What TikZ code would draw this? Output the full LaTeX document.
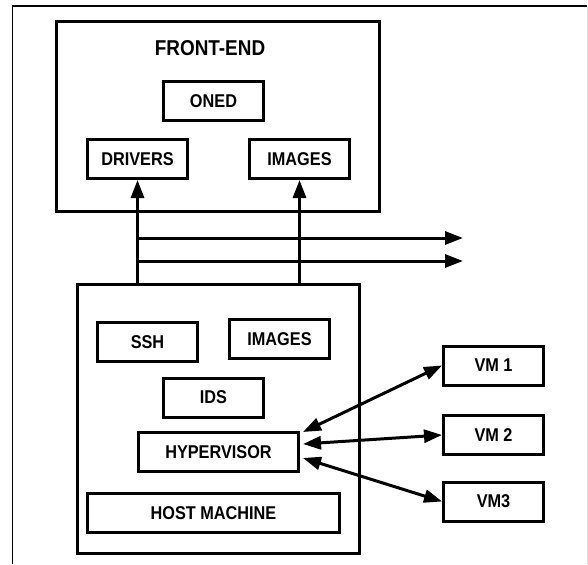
\documentclass[tikz,border=0pt]{standalone}
\usepackage{fontspec}
\newfontfamily\lbl{Liberation Sans}[FakeStretch=0.88]
\usetikzlibrary{arrows.meta,calc}
\tikzset{
  box/.style={draw, line width=3pt, inner sep=0pt, minimum width=100pt, minimum height=39pt,
    font=\lbl\bfseries\fontsize{18.5}{20}\selectfont},
  container/.style={draw, line width=3pt, inner sep=0pt},
  arr/.style={line width=3pt, -{Triangle[length=18pt,width=13pt]}},
  darr/.style={line width=3pt, {Triangle[length=18pt,width=13pt]}-{Triangle[length=18pt,width=13pt]}},
  title/.style={font=\lbl\bfseries\fontsize{21.5}{23}\selectfont, inner sep=0pt}
}
\begin{document}
\begin{tikzpicture}[x=1pt,y=-1pt]
\useasboundingbox (0,0) rectangle (588,564);
% outer frame
\draw[line width=2pt] (12,6) -- (587,6);
\draw[line width=1pt] (12,5) -- (12,564);
\draw[gray!25, line width=1pt] (587,6) -- (587,564);

% front-end
\node[container, minimum width=323pt, minimum height=190pt] (fe) at (218,116.5) {};
\node[title] (fetitle) at (210,48) {FRONT-END};
\node[box] (oned) at (213.5,101) {ONED};
\node[box] (drivers) at (137.5,159) {DRIVERS};
\node[box] (images) at (299.5,159) {IMAGES};

% host
\node[container, minimum width=282pt, minimum height=269pt] (host) at (218.5,419) {};
\node[box] (ssh) at (147.5,342) {SSH};
\node[box] (himages) at (279.5,339) {IMAGES};
\node[box] (ids) at (213.5,397.5) {IDS};
\node[box, minimum width=160pt] (hyp) at (218.5,452) {HYPERVISOR};
\node[box, minimum width=252pt] (hm) at (213.5,513) {HOST MACHINE};

% VMs
\node[box] (vm1) at (493.5,365.5) {VM 1};
\node[box] (vm2) at (493.5,435) {VM 2};
\node[box] (vm3) at (493.5,501.5) {VM3};

% vertical arrows
\draw[arr] (host.north -| drivers.south) -- (drivers.south);
\draw[arr] (host.north -| images.south) -- (images.south);

% horizontal arrows
\coordinate (b1s) at (137.5,238);
\coordinate (b1e) at (463,238);
\coordinate (b2s) at (137.5,261);
\coordinate (b2e) at (463,261);
\draw[arr] (b1s) -- (b1e);
\draw[arr] (b2s) -- (b2e);

% VM arrows
\draw[darr] ($(hyp.east)+(3,-20)$) -- (vm1.west);
\draw[darr] ($(hyp.east)+(3,-8)$) -- (vm2.west);
\draw[darr] ($(hyp.east)+(3,6)$) -- (vm3.west);
\end{tikzpicture}
\end{document}
